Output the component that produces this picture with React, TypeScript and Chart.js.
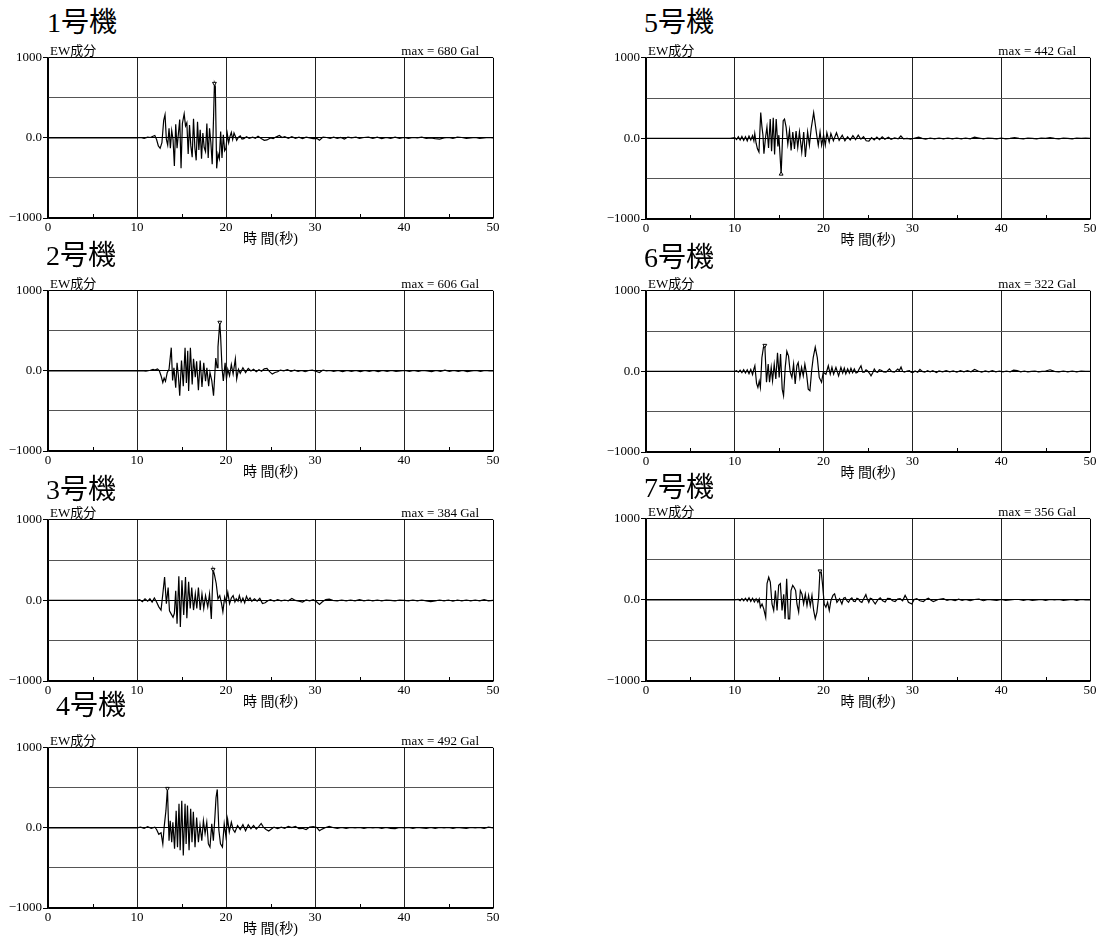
import React, { useEffect, useRef } from "react";
import { Chart, registerables } from "chart.js";

Chart.register(...registerables);

type Pt = [number, number];

// ---- data (time in s, acceleration in Gal) ----
const unitNames = ["1号機", "2号機", "3号機", "4号機", "5号機", "6号機", "7号機"];
const maxValues = [680, 606, 384, 492, 442, 322, 356];
const componentLabel = "EW成分";
const xAxisTitle = "時 間(秒)";
const xTickStep = 10;
const minorTickValues = [5, 15, 25, 35, 45];
const yTickValues = [-1000, 0, 1000];
const yTickTexts = ["\u22121000", "0.0", "1000"];

const unit1: Pt[] = [[0,0],[10,0],[10.4,5],[10.8,-5],[11.2,10],[11.5,5],[11.8,20],[12.0,30],[12.2,-20],[12.4,-100],[12.6,-130],[12.8,-60],[13.0,220],[13.15,290],[13.3,-20],[13.45,-90],[13.6,120],[13.75,-130],[13.9,90],[14.05,-20],[14.2,-350],[14.35,170],[14.5,-130],[14.65,50],[14.8,230],[14.95,-380],[15.1,180],[15.3,300],[15.45,150],[15.6,190],[15.75,-200],[15.9,160],[16.05,-100],[16.2,-240],[16.35,240],[16.5,-120],[16.65,-280],[16.8,200],[16.95,-150],[17.1,100],[17.25,-260],[17.4,60],[17.55,-120],[17.7,-170],[17.85,180],[18.0,-250],[18.15,120],[18.3,-60],[18.45,-330],[18.6,250],[18.7,680],[18.8,640],[18.95,-380],[19.1,-200],[19.25,-260],[19.4,80],[19.55,-250],[19.7,40],[19.85,-160],[20.0,-130],[20.15,50],[20.3,-60],[20.45,20],[20.6,70],[20.75,-20],[20.9,60],[21.05,20],[21.2,-30],[21.4,10],[21.6,25],[21.8,-15],[22.0,-10],[22.3,15],[22.6,-5],[23.0,10],[23.3,-5],[23.6,20],[24.0,-10],[24.3,-30],[24.6,-25],[25.0,0],[25.3,-10],[25.6,10],[26.0,30],[26.3,5],[26.6,15],[27.0,-5],[27.4,15],[27.8,-5],[28.2,10],[28.6,-10],[29.0,10],[29.4,0],[29.8,-10],[30.2,-5],[30.5,-30],[30.9,10],[31.3,5],[31.7,-5],[32.1,10],[32.5,-5],[32.9,5],[33.3,-15],[33.7,10],[34.1,0],[34.6,10],[35.0,-5],[35.5,5],[36.0,10],[36.5,-5],[37.0,10],[37.5,-10],[38.0,5],[38.5,-5],[39.0,10],[39.5,-5],[40.0,5],[40.5,-5],[41.0,5],[41.5,0],[42.0,10],[42.5,-5],[43.0,0],[43.5,-10],[44.0,-15],[44.5,0],[45.0,5],[45.5,-5],[46.0,10],[46.5,5],[47.0,-5],[47.5,0],[48.0,5],[48.5,-5],[49.0,0],[49.5,5],[50,0]];

const unit2: Pt[] = [[0,0],[10,0],[10.5,3],[11,-3],[11.5,8],[11.8,20],[12.0,10],[12.3,25],[12.5,5],[12.7,-60],[12.9,-145],[13.05,-90],[13.2,-130],[13.4,-20],[13.6,20],[13.85,290],[14.0,-120],[14.15,40],[14.35,-210],[14.5,100],[14.65,-60],[14.8,-310],[15.0,130],[15.2,-190],[15.4,290],[15.55,-150],[15.7,250],[15.8,-250],[16.0,290],[16.2,-170],[16.35,150],[16.55,-80],[16.7,120],[16.9,-240],[17.1,130],[17.3,-200],[17.5,100],[17.7,-130],[17.85,40],[18.05,-190],[18.2,-20],[18.4,-120],[18.6,-310],[18.85,160],[19.0,40],[19.1,300],[19.3,606],[19.4,420],[19.55,40],[19.7,-125],[19.9,100],[20.05,-100],[20.2,20],[20.4,-60],[20.6,80],[20.8,-40],[21.05,150],[21.2,-100],[21.4,20],[21.6,-30],[21.9,40],[22.2,-20],[22.5,30],[22.8,0],[23.1,20],[23.4,-10],[23.7,15],[24.0,-5],[24.3,25],[24.6,30],[24.9,-10],[25.2,-40],[25.5,-20],[25.8,-10],[26.1,10],[26.5,0],[26.9,15],[27.3,-5],[27.7,10],[28.1,-5],[28.5,5],[28.9,-10],[29.3,5],[29.7,10],[30.1,-5],[30.5,-20],[30.9,10],[31.3,0],[31.7,5],[32.1,-5],[32.6,5],[33.1,-10],[33.6,5],[34.1,-5],[34.6,5],[35.1,-10],[35.6,5],[36.1,-5],[36.6,5],[37.1,-10],[37.6,5],[38.1,-5],[38.6,5],[39.1,-5],[39.6,0],[40.1,5],[40.6,-5],[41.1,5],[41.6,-5],[42.1,5],[42.6,0],[43.1,-10],[43.6,5],[44.1,-5],[44.6,10],[45.1,-5],[45.6,5],[46.1,-5],[46.6,5],[47.1,-10],[47.6,0],[48.1,5],[48.6,-5],[49.1,5],[49.6,0],[50,0]];

const unit3: Pt[] = [[0,0],[10,0],[10.3,10],[10.6,-15],[10.9,20],[11.2,-10],[11.45,20],[11.7,-20],[11.95,30],[12.2,-20],[12.45,-80],[12.7,-120],[12.9,80],[13.1,290],[13.3,-40],[13.5,160],[13.65,-130],[13.85,-170],[14.05,-210],[14.2,-160],[14.35,120],[14.5,-290],[14.7,300],[14.87,-330],[15.05,250],[15.25,-180],[15.45,290],[15.6,-220],[15.8,230],[15.98,-100],[16.15,160],[16.35,-120],[16.55,80],[16.72,-100],[16.9,160],[17.1,-120],[17.3,80],[17.5,-100],[17.7,60],[17.95,-80],[18.15,80],[18.35,-230],[18.55,384],[18.7,320],[18.9,210],[19.1,20],[19.3,60],[19.5,-40],[19.65,-140],[19.85,40],[20.0,-20],[20.2,100],[20.4,-40],[20.6,30],[20.8,60],[21.0,-20],[21.15,20],[21.35,-10],[21.5,60],[21.7,-20],[21.9,30],[22.1,-30],[22.3,50],[22.5,0],[22.7,30],[22.9,-10],[23.2,20],[23.5,-10],[23.8,25],[24.1,-40],[24.4,-30],[24.7,-5],[25.0,10],[25.4,-10],[25.8,10],[26.2,-5],[26.6,5],[27.0,-5],[27.4,25],[27.8,0],[28.2,-10],[28.6,-20],[29.0,5],[29.4,-5],[29.8,10],[30.2,-20],[30.5,-50],[30.8,-20],[31.2,10],[31.6,15],[32.0,0],[32.5,-5],[33.0,5],[33.5,-5],[34.0,5],[34.5,-5],[35.0,10],[35.5,-5],[36.0,5],[36.5,-5],[37.0,5],[37.5,-5],[38.0,5],[38.5,0],[39.0,-5],[39.5,5],[40.0,0],[40.5,-5],[41.0,5],[41.5,-5],[42.0,5],[42.5,-5],[43.0,-15],[43.5,-5],[44.0,5],[44.5,-5],[45.0,5],[45.5,-10],[46.0,5],[46.5,-5],[47.0,5],[47.5,-5],[48.0,5],[48.5,-5],[49.0,10],[49.5,-5],[50,0]];

const unit4: Pt[] = [[0,0],[10,0],[10.4,10],[10.8,-5],[11.2,15],[11.6,-5],[12.0,10],[12.2,-20],[12.45,-80],[12.7,-60],[12.9,-200],[13.05,10],[13.25,215],[13.42,492],[13.6,-160],[13.73,90],[13.9,-180],[14.03,70],[14.22,-260],[14.4,215],[14.55,-240],[14.72,300],[14.85,-280],[15.03,340],[15.2,-345],[15.4,300],[15.52,-200],[15.67,280],[15.85,-280],[16.03,240],[16.18,-180],[16.33,200],[16.52,-240],[16.7,130],[16.9,-180],[17.08,30],[17.28,-160],[17.46,90],[17.65,-70],[17.84,70],[18.02,-200],[18.2,-240],[18.4,50],[18.58,-160],[18.75,130],[18.88,380],[19.02,480],[19.2,-30],[19.38,-200],[19.6,-240],[19.8,50],[19.98,-100],[20.18,110],[20.37,-50],[20.6,70],[20.8,-20],[21.0,-55],[21.3,30],[21.6,-20],[21.9,40],[22.2,-35],[22.5,40],[22.8,-10],[23.1,30],[23.4,-15],[23.7,20],[23.95,55],[24.2,10],[24.5,-20],[24.8,-40],[25.1,-15],[25.4,10],[25.8,-10],[26.2,10],[26.6,-5],[27.0,20],[27.4,5],[27.8,20],[28.2,-10],[28.6,-5],[29.0,-20],[29.4,10],[29.8,15],[30.2,5],[30.5,-35],[30.8,-15],[31.2,5],[31.6,20],[32.0,5],[32.5,-5],[33.0,5],[33.5,-5],[34.0,5],[34.5,0],[35.0,5],[35.5,-5],[36.0,5],[36.5,0],[37.0,5],[37.5,-5],[38.0,5],[38.5,-5],[39.0,-10],[39.5,5],[40.0,0],[40.5,5],[41.0,-5],[41.5,5],[42.0,0],[42.5,-5],[43.0,5],[43.5,-5],[44.0,5],[44.5,0],[45.0,5],[45.5,-5],[46.0,5],[46.5,0],[47.0,-5],[47.5,5],[48.0,0],[48.5,5],[49.0,-5],[49.5,10],[50,0]];

const unit5: Pt[] = [[0,0],[9.5,0],[10.0,10],[10.2,-15],[10.4,20],[10.6,-20],[10.8,25],[11.0,-25],[11.2,20],[11.4,-30],[11.6,30],[11.8,-20],[12.0,35],[12.15,-30],[12.25,60],[12.4,-60],[12.55,-130],[12.72,-170],[12.92,320],[13.05,150],[13.17,40],[13.28,-190],[13.47,20],[13.62,140],[13.8,-120],[13.99,240],[14.14,-160],[14.33,255],[14.48,-200],[14.66,240],[14.85,-100],[14.96,40],[15.22,-442],[15.45,220],[15.6,240],[15.78,140],[15.97,-70],[16.16,100],[16.34,-150],[16.53,80],[16.72,-130],[16.9,90],[17.09,-110],[17.28,80],[17.54,-170],[17.76,80],[17.95,-230],[18.2,80],[18.4,-85],[18.6,120],[18.88,320],[19.03,200],[19.25,20],[19.4,-85],[19.6,80],[19.78,-85],[20.0,40],[20.19,-85],[20.37,70],[20.63,-45],[20.82,60],[21.1,-30],[21.45,70],[21.75,-25],[22.1,40],[22.4,-30],[22.7,20],[23.0,-20],[23.3,35],[23.6,-15],[23.9,40],[24.2,-10],[24.5,20],[24.8,-30],[25.1,-35],[25.4,10],[25.7,-20],[26.0,15],[26.3,-15],[26.6,20],[26.9,-10],[27.3,15],[27.6,-10],[28.0,5],[28.4,-5],[28.7,30],[29.0,-5],[29.4,0],[29.8,-10],[30.3,5],[30.7,15],[31.1,0],[31.5,-10],[32.0,5],[32.5,-5],[33.0,5],[33.5,-5],[34.0,5],[34.5,-5],[35.0,5],[35.5,-5],[36.0,5],[36.5,-5],[37.0,15],[37.5,5],[38.0,-5],[38.5,5],[39.0,0],[39.5,-5],[40.0,5],[40.5,-5],[41.0,0],[41.5,10],[42.0,0],[42.5,-5],[43.0,5],[43.5,0],[44.0,-5],[44.5,5],[45.0,0],[45.5,10],[46.0,0],[46.5,-5],[47.0,5],[47.5,0],[48.0,-5],[48.5,5],[49.0,0],[49.5,5],[50,0]];

const unit6: Pt[] = [[0,0],[10,0],[10.2,10],[10.4,-10],[10.6,15],[10.8,-15],[11.0,20],[11.2,-20],[11.4,20],[11.6,-30],[11.8,25],[12.0,-40],[12.15,30],[12.26,70],[12.45,-150],[12.6,-200],[12.75,-120],[12.88,-200],[13.05,170],[13.23,300],[13.38,322],[13.57,-135],[13.76,90],[13.91,-135],[14.1,50],[14.25,-115],[14.44,90],[14.62,-95],[14.81,230],[15.0,-75],[15.15,215],[15.34,-220],[15.49,-300],[15.68,50],[15.86,250],[16.05,190],[16.24,-10],[16.43,-75],[16.62,90],[16.8,-155],[16.99,70],[17.14,110],[17.33,-75],[17.52,50],[17.71,-55],[17.89,90],[18.08,-30],[18.27,-220],[18.46,-240],[18.65,5],[18.83,170],[19.06,300],[19.29,170],[19.51,-75],[19.77,-135],[19.96,-10],[20.26,-35],[20.53,70],[20.75,-35],[20.94,50],[21.13,-35],[21.39,50],[21.69,-55],[21.95,50],[22.15,-20],[22.33,40],[22.5,-30],[22.71,30],[22.9,-20],[23.08,40],[23.27,-15],[23.46,30],[23.65,-20],[23.83,-10],[24.0,30],[24.21,70],[24.4,-10],[24.59,-10],[24.78,20],[24.96,5],[25.15,-20],[25.34,-55],[25.52,-20],[25.71,30],[25.9,-5],[26.09,-10],[26.28,20],[26.47,15],[26.75,-5],[27.03,-10],[27.22,10],[27.41,30],[27.7,-5],[27.97,-10],[28.16,10],[28.35,30],[28.53,10],[28.72,55],[28.9,0],[29.1,-10],[29.4,5],[29.66,10],[29.85,-10],[30.04,-15],[30.3,5],[30.6,-10],[30.85,25],[31.1,0],[31.4,-10],[31.7,10],[32.0,-5],[32.3,10],[32.7,-15],[33.0,5],[33.4,-5],[33.8,10],[34.2,-5],[34.6,5],[35.0,-10],[35.4,10],[35.8,-5],[36.2,10],[36.6,-5],[37.0,25],[37.4,5],[37.8,-10],[38.2,5],[38.6,-5],[39.0,10],[39.4,-5],[39.8,5],[40.2,-5],[40.6,5],[41.0,-5],[41.4,15],[41.8,10],[42.2,-5],[42.6,5],[43.0,-5],[43.4,0],[43.8,5],[44.2,-5],[44.6,0],[45.0,5],[45.5,20],[46.0,0],[46.5,-5],[47.0,5],[47.5,-5],[48.0,5],[48.5,-5],[49.0,5],[49.5,0],[50,0]];

const unit7: Pt[] = [[0,0],[10,0],[10.4,5],[10.6,-10],[10.8,15],[11.0,-10],[11.2,20],[11.4,-15],[11.6,25],[11.8,-20],[12.0,20],[12.2,-25],[12.4,15],[12.6,-30],[12.75,10],[12.88,-90],[13.07,-50],[13.26,-110],[13.48,-215],[13.63,200],[13.82,280],[14.0,220],[14.19,-50],[14.38,-130],[14.57,115],[14.76,-130],[14.94,180],[15.13,200],[15.32,-130],[15.51,70],[15.66,-235],[15.84,260],[16.03,-235],[16.18,-235],[16.33,115],[16.52,180],[16.7,150],[16.85,115],[17.0,-50],[17.19,-150],[17.38,115],[17.57,70],[17.75,-50],[17.94,70],[18.13,-70],[18.31,55],[18.5,-70],[18.69,55],[18.88,-130],[19.06,-230],[19.25,-150],[19.44,35],[19.59,356],[19.74,340],[19.89,180],[20.07,-50],[20.26,-90],[20.45,-30],[20.64,-130],[20.82,-10],[21.05,55],[21.24,75],[21.5,-30],[21.8,15],[22.06,-50],[22.25,20],[22.43,30],[22.62,-10],[22.81,-30],[23.0,10],[23.18,25],[23.37,-15],[23.56,-20],[23.75,20],[23.93,10],[24.12,-20],[24.31,-30],[24.5,10],[24.76,65],[24.92,10],[25.09,-30],[25.26,20],[25.43,15],[25.62,-20],[25.81,-50],[26.1,0],[26.37,25],[26.65,-10],[26.93,-25],[27.2,20],[27.49,15],[27.77,-10],[28.05,-20],[28.33,10],[28.61,15],[28.9,-10],[29.18,55],[29.4,10],[29.55,-30],[29.93,-50],[30.2,5],[30.49,15],[30.85,-10],[31.24,-20],[31.5,5],[31.8,20],[32.1,-5],[32.36,-20],[32.9,5],[33.48,15],[33.9,-5],[34.3,5],[34.8,-10],[35.2,10],[35.6,-5],[36.0,5],[36.5,-10],[37.0,5],[37.5,10],[38.0,-10],[38.5,5],[39.0,0],[39.5,-5],[40.0,5],[40.5,-5],[41.0,0],[41.5,5],[42.0,5],[42.5,-5],[43.0,5],[43.5,-5],[44.0,0],[44.5,5],[45.0,-5],[45.5,5],[46.0,0],[46.5,5],[47.0,-5],[47.5,0],[48.0,5],[48.5,-5],[49.0,5],[49.5,0],[50,0]];

const unitSeries: Pt[][] = [unit1, unit2, unit3, unit4, unit5, unit6, unit7];

// ---- layout (page pixels) ----
type Layout = { L: number; T: number; R: number; B: number; tx: number; ty: number };
const layouts: Layout[] = [
  { L: 48, T: 57, R: 493, B: 218, tx: 47, ty: 9 },
  { L: 48, T: 290, R: 493, B: 451, tx: 46, ty: 242 },
  { L: 48, T: 519, R: 493, B: 681, tx: 46, ty: 476 },
  { L: 48, T: 747, R: 493, B: 908, tx: 56, ty: 692 },
  { L: 646, T: 57, R: 1090, B: 219, tx: 644, ty: 9 },
  { L: 646, T: 290, R: 1090, B: 452, tx: 644, ty: 244 },
  { L: 646, T: 518, R: 1090, B: 681, tx: 644, ty: 474 },
];

const SERIF = '"Liberation Serif", "Times New Roman", "Noto Sans CJK JP", serif';
const PADL = 50, PADT = 8, PADR = 16, PADB = 24;

const minorTicksPlugin = {
  id: "minorTicks",
  afterDraw(chart: any) {
    const { ctx, chartArea, scales } = chart;
    ctx.save();
    ctx.strokeStyle = "#000";
    ctx.lineWidth = 1;
    minorTickValues.forEach((v) => {
      const x = Math.round(scales.x.getPixelForValue(v)) + 0.5;
      ctx.beginPath();
      ctx.moveTo(x, chartArea.bottom);
      ctx.lineTo(x, chartArea.bottom - 4);
      ctx.stroke();
    });
    ctx.restore();
  },
};

function Panel({ idx }: { idx: number }) {
  const ref = useRef<HTMLCanvasElement>(null);
  const lay = layouts[idx];
  const w = lay.R - lay.L + PADL + PADR;
  const h = lay.B - lay.T + PADT + PADB;

  useEffect(() => {
    const pts = unitSeries[idx].map(([x, y]) => ({ x, y }));
    let peak = 0;
    pts.forEach((d, i) => {
      if (Math.abs(d.y) > Math.abs(pts[peak].y)) peak = i;
    });
    const chart = new Chart(ref.current as HTMLCanvasElement, {
      type: "line",
      data: {
        datasets: [
          {
            data: pts,
            borderColor: "#000",
            borderWidth: 1.2,
            tension: 0,
            fill: false,
            pointRadius: (c: any) => (c.dataIndex === peak ? 2.2 : 0),
            pointStyle: "triangle",
            rotation: pts[peak].y > 0 ? 180 : 0,
            pointBackgroundColor: "#fff",
            pointBorderColor: "#000",
            pointBorderWidth: 1,
          } as any,
        ],
      },
      options: {
        responsive: false,
        animation: false,
        devicePixelRatio: 1,
        layout: { padding: { left: 0, top: PADT, right: PADR, bottom: 0 } },
        plugins: {
          legend: { display: false },
          tooltip: { enabled: false },
        },
        scales: {
          x: {
            type: "linear",
            min: 0,
            max: 50,
            afterFit: (s: any) => {
              s.height = PADB;
            },
            ticks: {
              stepSize: xTickStep,
              autoSkip: false,
              maxRotation: 0,
              padding: 2,
              color: "#000",
              font: { family: SERIF, size: 13 },
            },
            grid: {
              color: (c: any) =>
                c.tick && (c.tick.value === 0 || c.tick.value === 50) ? "#000" : "#222",
              lineWidth: 1,
              drawTicks: false,
            },
            border: { color: "#000", width: 1.5 },
          },
          y: {
            type: "linear",
            min: -1000,
            max: 1000,
            afterFit: (s: any) => {
              s.width = PADL;
            },
            ticks: {
              stepSize: 500,
              autoSkip: false,
              padding: 1,
              color: "#000",
              font: { family: SERIF, size: 13 },
              callback: (v: any) => {
                const k = yTickValues.indexOf(Number(v));
                return k >= 0 ? yTickTexts[k] : "";
              },
            },
            grid: {
              color: (c: any) =>
                c.tick && Math.abs(c.tick.value) === 500 ? "#555" : "#000",
              lineWidth: 1,
              drawTicks: true,
              tickLength: 5,
              tickColor: (c: any) =>
                c.tick && Math.abs(c.tick.value) === 500 ? "rgba(0,0,0,0)" : "#000",
            },
            border: { color: "#000", width: 1.5 },
          },
        },
      } as any,
      plugins: [minorTicksPlugin],
    });
    return () => chart.destroy();
  }, [idx]);

  const small: React.CSSProperties = {
    position: "absolute",
    fontFamily: SERIF,
    fontSize: 13,
    lineHeight: "15px",
    color: "#000",
    whiteSpace: "nowrap",
  };

  return (
    <>
      <div
        style={{
          position: "absolute",
          left: lay.tx,
          top: lay.ty,
          fontFamily: SERIF,
          fontSize: 28,
          lineHeight: "28px",
          color: "#000",
          whiteSpace: "nowrap",
        }}
      >
        {unitNames[idx]}
      </div>
      <canvas
        ref={ref}
        width={w}
        height={h}
        style={{ position: "absolute", left: lay.L - PADL, top: lay.T - PADT, width: w, height: h }}
      />
      <div style={{ ...small, left: lay.L + 2, top: lay.T - 14 }}>{componentLabel}</div>
      <div style={{ ...small, left: lay.R - 14 - 200, width: 200, textAlign: "right", top: lay.T - 14 }}>
        {`max = ${maxValues[idx]} Gal`}
      </div>
      <div
        style={{
          ...small,
          fontSize: 14,
          lineHeight: "18px",
          left: (lay.L + lay.R) / 2 - 100,
          width: 200,
          textAlign: "center",
          top: lay.B + 12,
        }}
      >
        {xAxisTitle}
      </div>
    </>
  );
}

export default function App() {
  return (
    <div
      style={{
        position: "absolute",
        left: 0,
        top: 0,
        width: 1105,
        height: 938,
        background: "#fff",
        overflow: "hidden",
      }}
    >
      {unitNames.map((_, i) => (
        <Panel key={i} idx={i} />
      ))}
    </div>
  );
}
